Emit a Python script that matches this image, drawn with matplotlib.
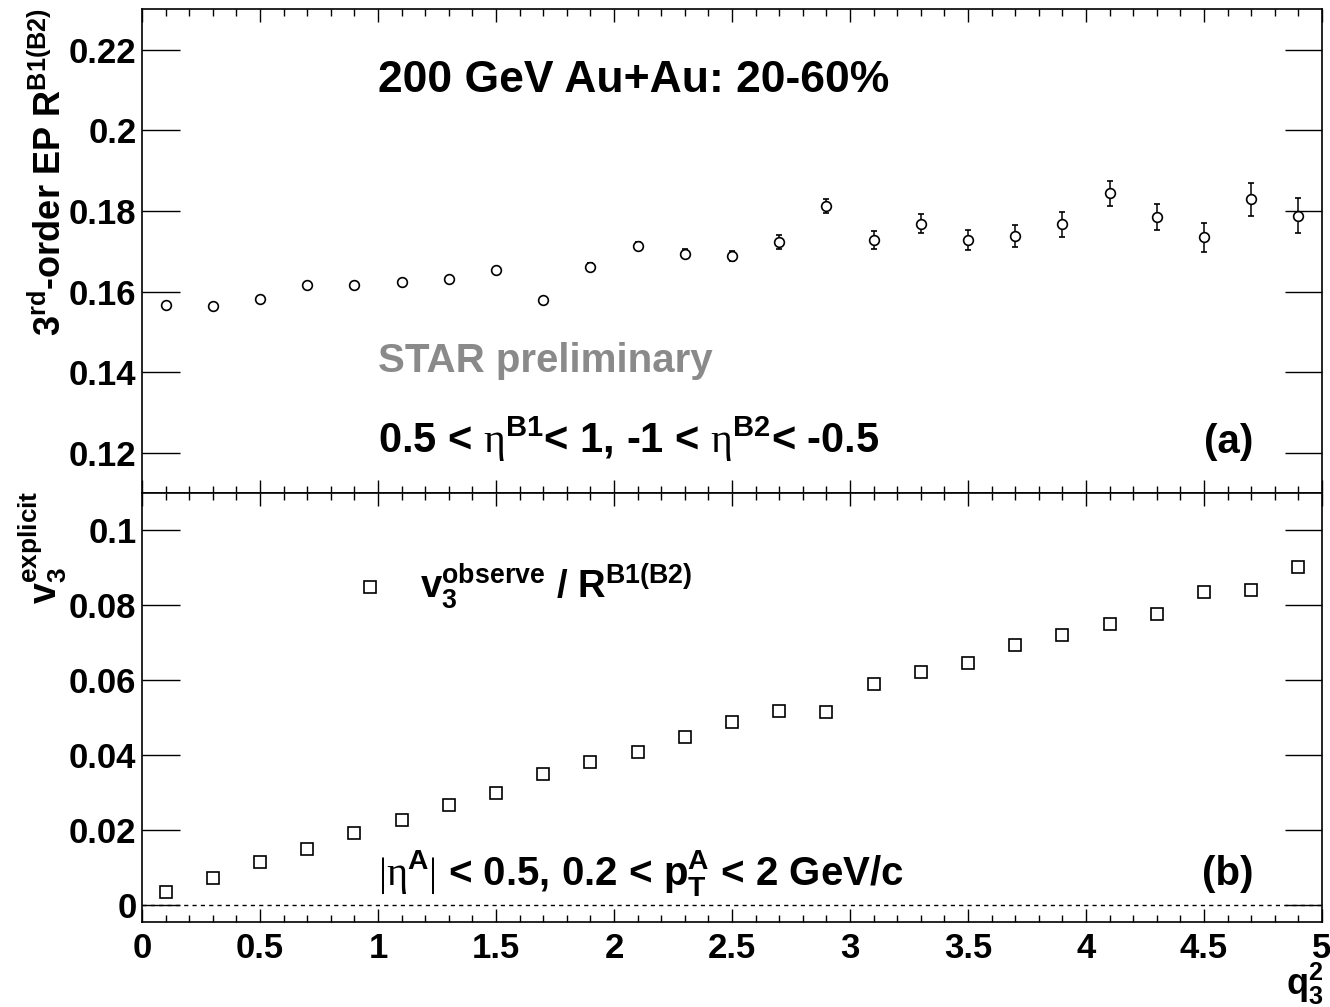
import matplotlib
matplotlib.use("Agg")
import matplotlib.pyplot as plt
import numpy as np

plt.rcParams['font.family'] = ['Liberation Sans', 'DejaVu Sans']
plt.rcParams['font.weight'] = 'bold'
plt.rcParams['mathtext.fontset'] = 'custom'
plt.rcParams['mathtext.rm'] = 'Liberation Sans:bold'
plt.rcParams['mathtext.it'] = 'Liberation Sans:bold'
plt.rcParams['mathtext.bf'] = 'Liberation Sans:bold'
# thin serif for the greek letters and bars
plt.rcParams['mathtext.sf'] = 'Liberation Serif:weight=normal'
plt.rcParams['mathtext.default'] = 'rm'

# q3^2 bin centres
q3sq = [0.1, 0.3, 0.5, 0.7, 0.9, 1.1, 1.3, 1.5, 1.7, 1.9, 2.1, 2.3, 2.5,
        2.7, 2.9, 3.1, 3.3, 3.5, 3.7, 3.9, 4.1, 4.3, 4.5, 4.7, 4.9]

# (a) 3rd-order event-plane resolution R^{B1(B2)}
resol = [0.1567, 0.1565, 0.1582, 0.1617, 0.1617, 0.1624, 0.1632, 0.1654,
         0.1580, 0.1662, 0.1714, 0.1694, 0.1689, 0.1724, 0.1813, 0.1729,
         0.1769, 0.1728, 0.1738, 0.1767, 0.1844, 0.1785, 0.1735, 0.1829,
         0.1789]
resol_err = [0.0006, 0.0006, 0.0006, 0.0006, 0.0007, 0.0007, 0.0007, 0.0008,
             0.0008, 0.0009, 0.0010, 0.0011, 0.0013, 0.0017, 0.0017, 0.0022,
             0.0023, 0.0025, 0.0028, 0.0031, 0.0031, 0.0033, 0.0036, 0.0040,
             0.0044]

# (b) v3 explicit = v3 observed / R
v3_expl = [0.0035, 0.0072, 0.0115, 0.0149, 0.0192, 0.0228, 0.0266, 0.0299,
           0.0351, 0.0381, 0.0408, 0.0448, 0.0490, 0.0517, 0.0515, 0.0589,
           0.0621, 0.0647, 0.0693, 0.0721, 0.0750, 0.0776, 0.0835, 0.0840,
           0.0903]

x_ticks = [0, 0.5, 1, 1.5, 2, 2.5, 3, 3.5, 4, 4.5, 5]
x_ticklabels = ['0', '0.5', '1', '1.5', '2', '2.5', '3', '3.5', '4', '4.5', '5']
top_yticks = [0.12, 0.14, 0.16, 0.18, 0.20, 0.22]
top_yticklabels = ['0.12', '0.14', '0.16', '0.18', '0.2', '0.22']
bot_yticks = [0, 0.02, 0.04, 0.06, 0.08, 0.10]
bot_yticklabels = ['0', '0.02', '0.04', '0.06', '0.08', '0.1']

W, H = 1330, 1007
fig = plt.figure(figsize=(W / 100, H / 100), dpi=100)
left, right = 142 / W, 1322 / W
ax1 = fig.add_axes([left, 1 - 493 / H, right - left, 484 / H])
ax2 = fig.add_axes([left, 1 - 922 / H, right - left, 429 / H])


def style_axis(ax):
    ax.set_xlim(0, 5)
    ax.set_xticks(x_ticks)
    ax.set_xticks(np.arange(0, 5.01, 0.1), minor=True)
    ax.tick_params(axis='x', which='major', direction='in', length=9.5,
                   width=1.0, top=True, bottom=True, pad=7, labelsize=25)
    ax.tick_params(axis='x', which='minor', direction='in', length=5,
                   width=1.0, top=True, bottom=True)
    ax.tick_params(axis='y', which='major', direction='in', length=27,
                   width=1.0, left=True, right=True, pad=4, labelsize=25)
    ax.tick_params(axis='y', which='minor', left=False, right=False)
    for s in ax.spines.values():
        s.set_linewidth(1.2)


# top panel
style_axis(ax1)
ax1.set_ylim(0.1101, 0.2301)
ax1.set_yticks(top_yticks)
ax1.set_yticklabels(top_yticklabels)
ax1.set_xticklabels([])
ax1.errorbar(q3sq, resol, yerr=resol_err, fmt='o', ms=7, mfc='white',
             mec='black', mew=1.2, ecolor='black', elinewidth=1.1,
             capsize=2.3, capthick=1.1)
ax1.text(1.0, 0.2096, '200 GeV Au+Au: 20-60%', fontsize=32, fontweight='bold')
ax1.text(1.0, 0.1401, 'STAR preliminary', fontsize=29, fontweight='bold',
         color='#8a8a8a')
ax1.text(1.0, 0.1200,
         r'0.5 < $\mathsf{\eta}^{B1}$< 1, -1 < $\mathsf{\eta}^{B2}$< -0.5',
         fontsize=30, fontweight='bold')
ax1.text(4.71, 0.1200, '(a)', fontsize=29, fontweight='bold', ha='right')

# bottom panel
style_axis(ax2)
ax2.set_ylim(-0.0045, 0.11)
ax2.set_yticks(bot_yticks)
ax2.set_yticklabels(bot_yticklabels)
ax2.set_xticklabels(x_ticklabels)
ax2.axhline(0, color='black', lw=1.0, ls=(0, (3, 3)))
ax2.plot(q3sq, v3_expl, 's', ms=8.5, mfc='white', mec='black', mew=1.2)
ax2.plot([0.968], [0.0848], 's', ms=8.5, mfc='white', mec='black', mew=1.2)
ax2.text(1.18, 0.0819, r'$v_{3}^{observe}$ / R$^{B1(B2)}$', fontsize=27.5,
         fontweight='bold')
ax2.text(1.0, 0.0053,
         r'$\mathsf{|\eta}^{A}\mathsf{|}$ < 0.5, 0.2 < $p_{T}^{A}$ < 2 GeV/c',
         fontsize=29, fontweight='bold')
ax2.text(4.71, 0.0053, '(b)', fontsize=29, fontweight='bold', ha='right')

# axis titles
fig.text(50 / W, 1 - 8 / H, r'3$^{rd}$-order EP R$^{B1(B2)}$', rotation=90,
         ha='center', va='top', fontsize=26, fontweight='bold')
fig.text(43 / W, 1 - 491 / H, r'$v_{3}^{explicit}$', rotation=90,
         ha='center', va='top', fontsize=27, fontweight='bold')
fig.text(1324 / W, 1 - 984 / H, r'$q_{3}^{2}$', ha='right', va='center',
         fontsize=26, fontweight='bold')

fig.savefig('out.png', dpi=100, facecolor='white')
